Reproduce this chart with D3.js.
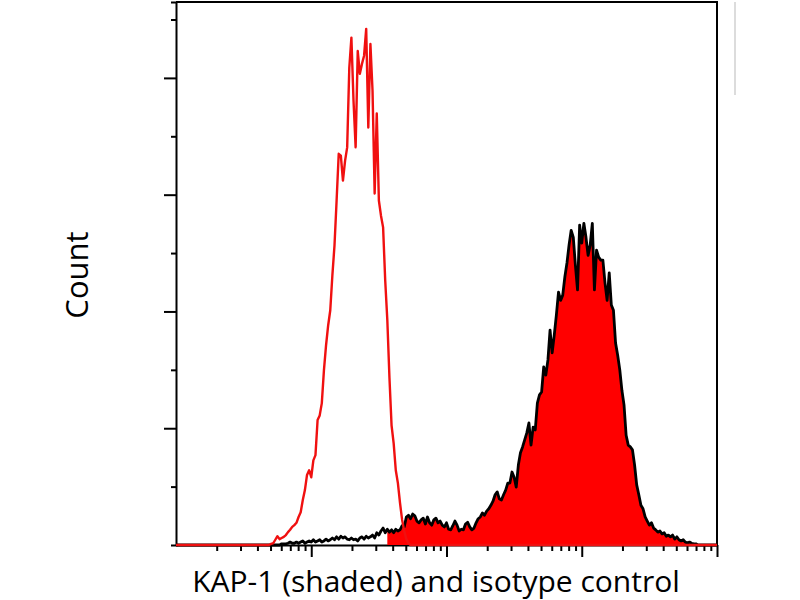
<!DOCTYPE html>
<html>
<head>
<meta charset="utf-8">
<script src="https://cdn.jsdelivr.net/npm/d3@7"></script>
<style>
    body { margin: 0; background: #fff; }
    svg { display: block; }
</style>
</head>
<body>
<script>
'use strict';

// histogram: 256 log channels over four decades (10 .. 100000)
var channelCount = 256;
var decades = [10, 100, 1000, 10000, 100000];

// isotype control (red outline), counts from channel 44 upward
var isotypeStart = 44;
var isotypeCounts = [
    0, 2, 3, 9, 15, 10, 12, 14, 17, 22,
    26, 31, 34, 38, 48, 56, 77, 94, 120, 128,
    116, 145, 154, 214, 222, 243, 299, 342, 376, 402,
    462, 513, 590, 670, 667, 624, 658, 681, 817, 869,
    761, 681, 846, 807, 824, 838, 884, 715, 858, 778,
    602, 739, 590, 564, 544, 453, 385, 287, 205, 174,
    128, 106, 72, 43, 24, 10, 3, 0
];

// KAP-1 (shaded), counts from channel 48 upward
var kapStart = 48;
var kapCounts = [
    0, 0, 2, 2, 2, 3, 5, 3, 3, 5,
    3, 5, 7, 3, 5, 7, 5, 9, 5, 7,
    9, 5, 7, 10, 7, 9, 12, 9, 14, 10,
    15, 12, 14, 10, 9, 12, 9, 10, 7, 12,
    14, 10, 15, 12, 14, 17, 12, 21, 17, 24,
    29, 21, 27, 22, 26, 21, 27, 24, 26, 33,
    31, 48, 51, 45, 53, 50, 41, 38, 43, 46,
    36, 48, 38, 34, 43, 46, 38, 41, 34, 31,
    38, 27, 26, 33, 41, 34, 24, 27, 26, 36,
    39, 31, 26, 29, 38, 45, 48, 55, 51, 58,
    62, 68, 75, 86, 91, 79, 77, 86, 94, 106,
    106, 125, 116, 99, 137, 158, 168, 180, 192, 209,
    171, 202, 197, 243, 257, 262, 305, 291, 317, 368,
    329, 360, 394, 433, 419, 428, 459, 483, 514, 539,
    527, 479, 437, 548, 517, 551, 527, 496, 514, 551,
    437, 505, 493, 488, 488, 449, 419, 466, 411, 402,
    346, 325, 300, 265, 240, 188, 171, 168, 163, 137,
    103, 86, 68, 62, 48, 41, 34, 38, 29, 26,
    22, 24, 19, 21, 15, 17, 14, 17, 10, 14,
    9, 7, 9, 5, 3, 5, 3, 2, 2, 0
];
var kapFillStart = 100;   // shading begins where the isotype curve comes down

var countMax = 930;
var countTicks = [100, 200, 300, 400, 500, 600, 700, 800, 900];

var xLabel = 'KAP-1 (shaded) and isotype control';
var yLabel = 'Count';

var width = 800;
var height = 600;
var plot = {left: 176, right: 717, top: 2, bottom: 545};

// pad a partial histogram out to the full channel range with zeros
function toBins(start, counts) {
    var bins = [];
    for (var ch = 0; ch <= channelCount; ch++) {
        var v = counts[ch - start];
        bins.push({ch: ch, count: v === undefined ? 0 : v});
    }
    return bins;
}

var isotype = toBins(isotypeStart, isotypeCounts);
var kap = toBins(kapStart, kapCounts);

var chScale = d3.scaleLinear().domain([0, channelCount]).range([plot.left, plot.right]);
var logScale = d3.scaleLog().domain([decades[0], decades[decades.length - 1]]).range([plot.left, plot.right]);
var yScale = d3.scaleLinear().domain([0, countMax]).range([plot.bottom, plot.top]);

var svg = d3.select('body')
    .append('svg')
    .attr('width', width)
    .attr('height', height);

// x axis: long ticks at decades, short ones in between, no labels
var minorX = [];
var majorX = [];
decades.forEach(function (d, i) {
    if (i > 0) majorX.push(d);
    if (i < decades.length - 1) {
        for (var k = 2; k <= 9; k++) minorX.push(d * k);
    }
});

svg.append('g')
    .attr('transform', 'translate(0,' + plot.bottom + ')')
    .call(d3.axisBottom(logScale).tickValues(minorX).tickSize(6).tickFormat(''))
    .call(function (g) {
        g.select('.domain').remove();
        g.selectAll('line').attr('stroke', '#000').attr('stroke-width', 2);
    });

svg.append('g')
    .attr('transform', 'translate(0,' + plot.bottom + ')')
    .call(d3.axisBottom(logScale).tickValues(majorX).tickSize(12).tickFormat('').tickSizeOuter(0))
    .call(function (g) {
        g.select('.domain').attr('stroke', '#000').attr('stroke-width', 2);
        g.selectAll('line').attr('stroke', '#000').attr('stroke-width', 2);
    });

// y axis: long ticks at every second step
svg.append('g')
    .attr('transform', 'translate(' + plot.left + ',0)')
    .call(d3.axisLeft(yScale).tickValues(countTicks).tickFormat('').tickSizeOuter(0)
        .tickSize(5))
    .call(function (g) {
        g.select('.domain').attr('stroke', '#000').attr('stroke-width', 2);
        g.selectAll('.tick line')
            .attr('stroke', '#000')
            .attr('stroke-width', 2)
            .attr('x2', function (d) { return d % 200 === 0 ? -12 : -5; });
    });

// frame top and right
svg.append('path')
    .attr('d', 'M' + plot.left + ',' + plot.top + 'H' + plot.right + 'V' + plot.bottom)
    .attr('fill', 'none')
    .attr('stroke', '#000')
    .attr('stroke-width', 2);

// faint separator at the right edge
svg.append('line')
    .attr('x1', 735).attr('x2', 735)
    .attr('y1', 2).attr('y2', 95)
    .attr('stroke', '#dcdcdc')
    .attr('stroke-width', 2);

var area = d3.area()
    .x(function (d) { return chScale(d.ch); })
    .y0(yScale(0))
    .y1(function (d) { return yScale(d.count); });

var line = d3.line()
    .x(function (d) { return chScale(d.ch); })
    .y(function (d) { return yScale(d.count); });

svg.append('path')
    .datum(kap.filter(function (d) { return d.ch >= kapFillStart; }))
    .attr('d', area)
    .attr('fill', '#ff0000');

svg.append('path')
    .datum(kap)
    .attr('d', line)
    .attr('fill', 'none')
    .attr('stroke', '#000')
    .attr('stroke-width', 2.8)
    .attr('stroke-linejoin', 'round');

svg.append('path')
    .datum(isotype)
    .attr('d', line)
    .attr('fill', 'none')
    .attr('stroke', '#f01010')
    .attr('stroke-width', 2.4)
    .attr('stroke-linejoin', 'round');

svg.append('text')
    .attr('x', 436)
    .attr('y', 592)
    .attr('text-anchor', 'middle')
    .attr('font-family', 'Open Sans, sans-serif')
    .attr('font-size', 30)
    .attr('fill', '#000')
    .text(xLabel);

svg.append('text')
    .attr('transform', 'translate(88,275) rotate(-90)')
    .attr('text-anchor', 'middle')
    .attr('font-family', 'Open Sans, sans-serif')
    .attr('font-size', 31)
    .attr('fill', '#000')
    .text(yLabel);
</script>
</body>
</html>
